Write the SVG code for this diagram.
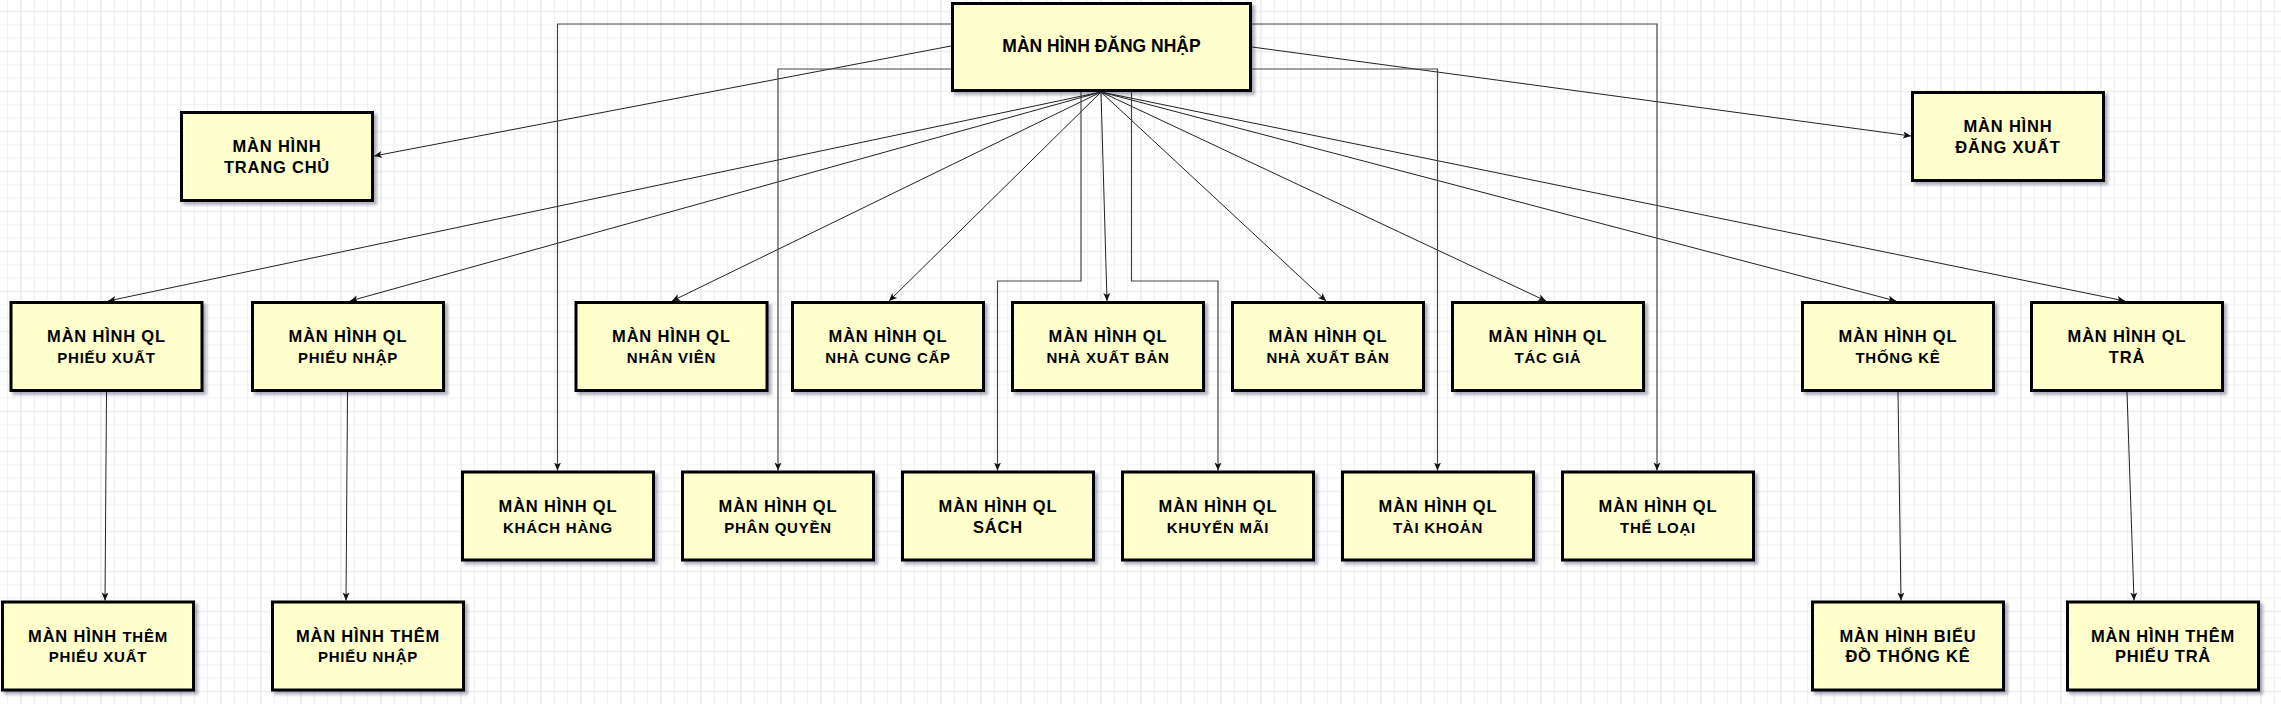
<svg xmlns="http://www.w3.org/2000/svg" width="2281" height="704" viewBox="0 0 2281 704">
<defs>
<pattern id="grid" width="40" height="40" patternUnits="userSpaceOnUse" x="1" y="31.5">
<path d="M6.667 0V40M33.333 0V40M0 6.667H40M0 33.333H40" stroke="#f0f0f0" stroke-width="1" fill="none"/>
<path d="M20 0V40M0 20H40" stroke="#e0e0e0" stroke-width="1" fill="none"/>
</pattern>
<filter id="sh" x="-10%" y="-10%" width="130%" height="130%">
<feDropShadow dx="3" dy="3" stdDeviation="1.5" flood-color="#202040" flood-opacity="0.35"/>
</filter>
<marker id="arr" markerWidth="10" markerHeight="10" refX="8" refY="3.5" orient="auto" markerUnits="userSpaceOnUse">
<path d="M0,0 L8,3.5 L0,7 L2,3.5 z" fill="#111"/>
</marker>
</defs>
<style>
.box{fill:#FFFFCC;stroke:#000;stroke-width:3;filter:url(#sh)}
text{font-family:"Liberation Sans",Arial,sans-serif;font-weight:bold;fill:#000;text-anchor:middle}
.t0{font-size:17.5px}
.t1{font-size:16.5px;letter-spacing:0.8px}
.t2{font-size:15px;letter-spacing:0.75px}
.c{fill:none;stroke:#222;stroke-width:1}
.o{fill:none;stroke:#444;stroke-width:1.2}
</style>
<rect x="0" y="0" width="2281" height="704" fill="#fff"/>
<rect x="0" y="0" width="2281" height="704" fill="url(#grid)"/>

<g id="connectors">
<path class="c" d="M951,46 L374,156" marker-end="url(#arr)"/>
<path class="c" d="M1252,47 L1911,136" marker-end="url(#arr)"/>
<path class="c" d="M1101,92 L108,301" marker-end="url(#arr)"/>
<path class="c" d="M1101,92 L350,301" marker-end="url(#arr)"/>
<path class="c" d="M1101,92 L672,301" marker-end="url(#arr)"/>
<path class="c" d="M1101,92 L889,301" marker-end="url(#arr)"/>
<path class="c" d="M1101,92 L1107,301" marker-end="url(#arr)"/>
<path class="c" d="M1101,92 L1326,301" marker-end="url(#arr)"/>
<path class="c" d="M1101,92 L1546,301" marker-end="url(#arr)"/>
<path class="c" d="M1101,92 L1896,301" marker-end="url(#arr)"/>
<path class="c" d="M1101,92 L2125,301" marker-end="url(#arr)"/>
<path class="o" d="M951,24 H557.5 V470.5" marker-end="url(#arr)"/>
<path class="o" d="M951,69 H778 V470.5" marker-end="url(#arr)"/>
<path class="o" d="M1081,92 V281 H997.5 V470.5" marker-end="url(#arr)"/>
<path class="o" d="M1131.5,92 V281 H1218 V470.5" marker-end="url(#arr)"/>
<path class="o" d="M1252,69 H1437.5 V470.5" marker-end="url(#arr)"/>
<path class="o" d="M1252,24 H1657 V470.5" marker-end="url(#arr)"/>
<path class="c" d="M106.5,392 L105,600.5" marker-end="url(#arr)"/>
<path class="c" d="M347.5,392 L346,600.5" marker-end="url(#arr)"/>
<path class="c" d="M1898,392 L1901,600.5" marker-end="url(#arr)"/>
<path class="c" d="M2127,392 L2134,600.5" marker-end="url(#arr)"/>
</g>

<g id="n-dangnhap"><rect class="box" x="952.5" y="3.5" width="298" height="87"/><text class="t0" x="1101.5" y="52">MÀN HÌNH ĐĂNG NHẬP</text></g>
<g id="n-trangchu"><rect class="box" x="181.5" y="112.5" width="191" height="88"/><text class="t1" x="277" y="152">MÀN HÌNH</text><text class="t1" x="277" y="173">TRANG CHỦ</text></g>
<g id="n-dangxuat"><rect class="box" x="1912.5" y="92.5" width="191" height="88"/><text class="t1" x="2008" y="132">MÀN HÌNH</text><text class="t1" x="2008" y="153">ĐĂNG XUẤT</text></g>

<g id="n-ql-phieuxuat"><rect class="box" x="11" y="302.5" width="191" height="88"/><text class="t1" x="106.5" y="342">MÀN HÌNH QL</text><text class="t2" x="106.5" y="362.5">PHIẾU XUẤT</text></g>
<g id="n-ql-phieunhap"><rect class="box" x="252.5" y="302.5" width="191" height="88"/><text class="t1" x="348" y="342">MÀN HÌNH QL</text><text class="t2" x="348" y="362.5">PHIẾU NHẬP</text></g>
<g id="n-ql-nhanvien"><rect class="box" x="576" y="302.5" width="191" height="88"/><text class="t1" x="671.5" y="342">MÀN HÌNH QL</text><text class="t2" x="671.5" y="362.5">NHÂN VIÊN</text></g>
<g id="n-ql-nhacungcap"><rect class="box" x="792.5" y="302.5" width="191" height="88"/><text class="t1" x="888" y="342">MÀN HÌNH QL</text><text class="t2" x="888" y="362.5">NHÀ CUNG CẤP</text></g>
<g id="n-ql-nhaxuatban1"><rect class="box" x="1012.5" y="302.5" width="191" height="88"/><text class="t1" x="1108" y="342">MÀN HÌNH QL</text><text class="t2" x="1108" y="362.5">NHÀ XUẤT BẢN</text></g>
<g id="n-ql-nhaxuatban2"><rect class="box" x="1232.5" y="302.5" width="191" height="88"/><text class="t1" x="1328" y="342">MÀN HÌNH QL</text><text class="t2" x="1328" y="362.5">NHÀ XUẤT BẢN</text></g>
<g id="n-ql-tacgia"><rect class="box" x="1452.5" y="302.5" width="191" height="88"/><text class="t1" x="1548" y="342">MÀN HÌNH QL</text><text class="t2" x="1548" y="362.5">TÁC GIẢ</text></g>
<g id="n-ql-thongke"><rect class="box" x="1802.5" y="302.5" width="191" height="88"/><text class="t1" x="1898" y="342">MÀN HÌNH QL</text><text class="t2" x="1898" y="362.5">THỐNG KÊ</text></g>
<g id="n-ql-tra"><rect class="box" x="2031.5" y="302.5" width="191" height="88"/><text class="t1" x="2127" y="342">MÀN HÌNH QL</text><text class="t1" x="2127" y="362.5">TRẢ</text></g>

<g id="n-ql-khachhang"><rect class="box" x="462.5" y="472" width="191" height="88"/><text class="t1" x="558" y="512">MÀN HÌNH QL</text><text class="t2" x="558" y="532.5">KHÁCH HÀNG</text></g>
<g id="n-ql-phanquyen"><rect class="box" x="682.5" y="472" width="191" height="88"/><text class="t1" x="778" y="512">MÀN HÌNH QL</text><text class="t2" x="778" y="532.5">PHÂN QUYỀN</text></g>
<g id="n-ql-sach"><rect class="box" x="902.5" y="472" width="191" height="88"/><text class="t1" x="998" y="512">MÀN HÌNH QL</text><text class="t1" x="998" y="532.5">SÁCH</text></g>
<g id="n-ql-khuyenmai"><rect class="box" x="1122.5" y="472" width="191" height="88"/><text class="t1" x="1218" y="512">MÀN HÌNH QL</text><text class="t2" x="1218" y="532.5">KHUYẾN MÃI</text></g>
<g id="n-ql-taikhoan"><rect class="box" x="1342.5" y="472" width="191" height="88"/><text class="t1" x="1438" y="512">MÀN HÌNH QL</text><text class="t2" x="1438" y="532.5">TÀI KHOẢN</text></g>
<g id="n-ql-theloai"><rect class="box" x="1562.5" y="472" width="191" height="88"/><text class="t1" x="1658" y="512">MÀN HÌNH QL</text><text class="t2" x="1658" y="532.5">THỂ LOẠI</text></g>

<g id="n-them-phieuxuat"><rect class="box" x="2.5" y="602" width="191" height="88"/><text x="98" y="641.5"><tspan class="t1">MÀN HÌNH </tspan><tspan class="t2">THÊM</tspan></text><text class="t2" x="98" y="662">PHIẾU XUẤT</text></g>
<g id="n-them-phieunhap"><rect class="box" x="272.5" y="602" width="191" height="88"/><text class="t1" x="368" y="641.5">MÀN HÌNH THÊM</text><text class="t2" x="368" y="662">PHIẾU NHẬP</text></g>
<g id="n-bieudo-thongke"><rect class="box" x="1812.5" y="602" width="191" height="88"/><text class="t1" x="1908" y="641.5">MÀN HÌNH BIỂU</text><text class="t1" x="1908" y="662">ĐỒ THỐNG KÊ</text></g>
<g id="n-them-phieutra"><rect class="box" x="2067.5" y="602" width="191" height="88"/><text class="t1" x="2163" y="641.5">MÀN HÌNH THÊM</text><text class="t1" x="2163" y="662">PHIẾU TRẢ</text></g>
</svg>
